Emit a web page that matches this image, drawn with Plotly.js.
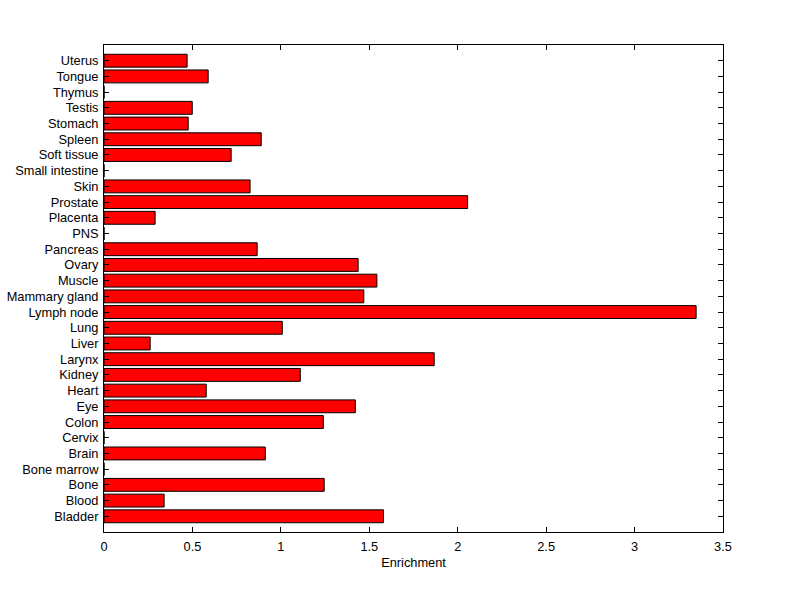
<!DOCTYPE html>
<html>
<head>
<meta charset="utf-8">
<script src="https://cdn.plot.ly/plotly-3.0.1.min.js"></script>
<style>html,body{margin:0;padding:0;background:#fff;}#chart{width:800px;height:599px;}</style>
</head>
<body>
<div id="chart"></div>
<script>
const tissues = ["Bladder","Blood","Bone","Bone marrow","Brain","Cervix","Colon","Eye","Heart","Kidney","Larynx","Liver","Lung","Lymph node","Mammary gland","Muscle","Ovary","Pancreas","PNS","Placenta","Prostate","Skin","Small intestine","Soft tissue","Spleen","Stomach","Testis","Thymus","Tongue","Uterus"];
const enrichment = [1.58,0.34,1.245,0,0.912,0,1.24,1.421,0.578,1.11,1.867,0.261,1.008,3.348,1.469,1.543,1.437,0.866,0,0.289,2.056,0.826,0,0.719,0.889,0.476,0.499,0,0.589,0.47];
const xTicks = [0,0.5,1,1.5,2,2.5,3,3.5];
const xTickLabels = ["0","0.5","1","1.5","2","2.5","3","3.5"];

const font = {family: "Liberation Sans, Arial, sans-serif", size: 12.8, color: "#000"};
Plotly.newPlot("chart", [{
  type: "bar",
  orientation: "h",
  x: enrichment,
  y: tissues,
  marker: {color: "#ff0000", line: {color: "#000", width: 1}},
  hoverinfo: "x+y"
}], {
  width: 800, height: 599,
  margin: {l: 104, r: 77, t: 45, b: 67},
  paper_bgcolor: "#fff", plot_bgcolor: "#fff",
  font: font,
  bargap: 0.18,
  showlegend: false,
  xaxis: {
    range: [0, 3.5], tickvals: xTicks, ticktext: xTickLabels,
    ticks: "inside", ticklen: 5, tickcolor: "#000", tickwidth: 1,
    showline: true, linecolor: "#000", linewidth: 1, mirror: "ticks",
    showgrid: false, zeroline: false,
    tickfont: font, ticklabelstandoff: 3,
    title: {text: "Enrichment", font: font, standoff: 4}
  },
  yaxis: {
    type: "category", range: [-1, 30],
    categoryorder: "array", categoryarray: tissues,
    ticks: "inside", ticklen: 5, tickcolor: "#000", tickwidth: 1,
    showline: true, linecolor: "#000", linewidth: 1, mirror: "ticks",
    showgrid: false, zeroline: false,
    tickfont: font, ticklabelstandoff: 2
  }
}, {displayModeBar: false, staticPlot: true});
</script>
</body>
</html>
